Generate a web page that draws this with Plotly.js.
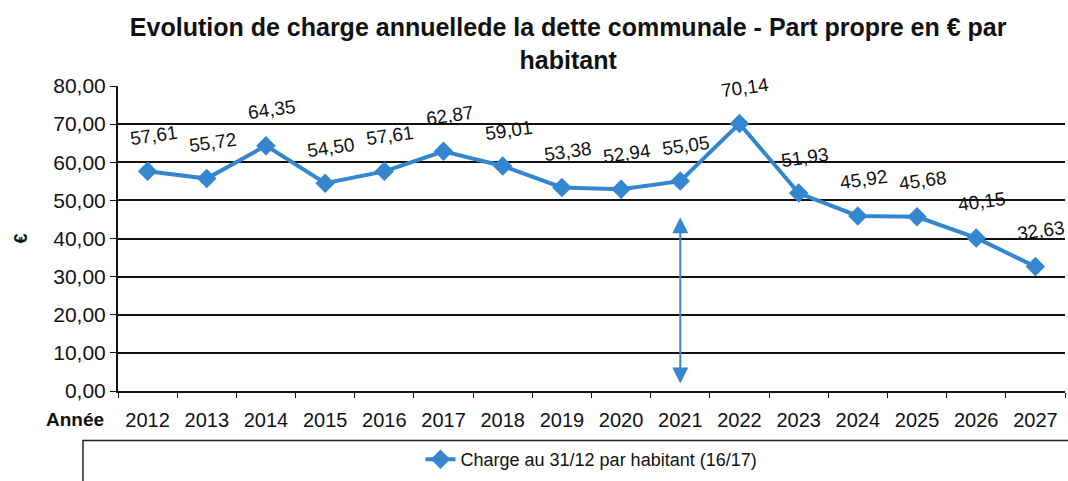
<!DOCTYPE html>
<html>
<head>
<meta charset="utf-8">
<script src="https://cdn.plot.ly/plotly-3.0.1.min.js"></script>
<style>body{margin:0;background:#fff}#chart{width:1068px;height:481px}</style>
</head>
<body>
<div id="chart"></div>
<script>
const years = ['2012','2013','2014','2015','2016','2017','2018','2019','2020','2021','2022','2023','2024','2025','2026','2027'];
const charge = [57.61,55.72,64.35,54.50,57.61,62.87,59.01,53.38,52.94,55.05,70.14,51.93,45.92,45.68,40.15,32.63];
const yTickVals = [0,10,20,30,40,50,60,70,80];
const yTickText = ['0,00','10,00','20,00','30,00','40,00','50,00','60,00','70,00','80,00'];
const arrowYear = '2021';
const arrowRange = [2, 46];
const seriesName = 'Charge au 31/12 par habitant (16/17)';

const blue = '#3586d0';
const FONT = 'Liberation Sans, Arial, sans-serif';
const fmt = v => v.toFixed(2).replace('.', ',');

const trace = {
  x: years, y: charge, type: 'scatter', mode: 'lines+markers',
  name: seriesName,
  line: {color: blue, width: 4},
  marker: {symbol: 'diamond', size: 15, color: blue},
  hoverinfo: 'x+y'
};

const annotations = charge.map((v, i) => ({
  x: i, y: v, xref: 'x', yref: 'y', text: fmt(v), showarrow: false,
  yshift: 36, xshift: 6, textangle: -8,
  font: {family: FONT, size: 19, color: '#111'}
}));
const ai = years.indexOf(arrowYear);
annotations.push({
  x: ai, y: arrowRange[0], ax: ai, ay: arrowRange[1],
  xref: 'x', yref: 'y', axref: 'x', ayref: 'y', text: '',
  showarrow: true, arrowside: 'end+start', arrowhead: 2, arrowsize: 1.6,
  arrowwidth: 2, arrowcolor: blue
});
annotations.push({
  x: 0, y: -0.092, xref: 'paper', yref: 'paper', text: '<b>Année</b>',
  showarrow: false, xanchor: 'right', yanchor: 'middle', xshift: -12,
  font: {family: FONT, size: 19, color: '#111'}
});
annotations.push({
  x: 0, y: 0.5, xref: 'paper', yref: 'paper', text: '<b>€</b>',
  showarrow: false, xanchor: 'center', yanchor: 'middle', xshift: -98, textangle: -90,
  font: {family: FONT, size: 18, color: '#111'}
});

const layout = {
  width: 1068, height: 481,
  margin: {l: 118, r: 3, t: 86, b: 86},
  paper_bgcolor: '#fff', plot_bgcolor: '#fff',
  title: {
    text: '<b>Evolution de charge annuellede la dette communale - Part propre en € par<br>habitant</b>',
    x: 0.532, xanchor: 'center', y: 0.925, yanchor: 'middle',
    font: {family: FONT, size: 25, color: '#111'}
  },
  xaxis: {
    type: 'category', range: [-0.5, 15.5],
    showline: true, linecolor: '#111', linewidth: 2,
    ticks: 'outside', tickson: 'boundaries', ticklen: 5, tickcolor: '#111',
    showgrid: false, ticklabelstandoff: 10,
    tickfont: {family: FONT, size: 20, color: '#111'}
  },
  yaxis: {
    range: [0, 80], tickvals: yTickVals, ticktext: yTickText,
    showline: true, linecolor: '#111', linewidth: 2,
    ticks: 'outside', ticklen: 6, tickcolor: '#111',
    gridcolor: '#111', gridwidth: 2, zeroline: false,
    tickfont: {family: FONT, size: 21, color: '#111'}
  },
  showlegend: true,
  legend: {
    orientation: 'h', x: 0.5, xanchor: 'center', y: -0.225, yanchor: 'middle',
    bgcolor: 'rgba(0,0,0,0)',
    font: {family: FONT, size: 18, color: '#111'}
  },
  shapes: [{
    type: 'rect', xref: 'paper', yref: 'paper',
    x0: -0.037, x1: 1.02, y0: -0.32, y1: -0.162,
    line: {color: '#222', width: 1.5}, fillcolor: 'rgba(0,0,0,0)'
  }],
  annotations: annotations
};

Plotly.newPlot('chart', [trace], layout, {displayModeBar: false, staticPlot: true});
</script>
</body>
</html>
